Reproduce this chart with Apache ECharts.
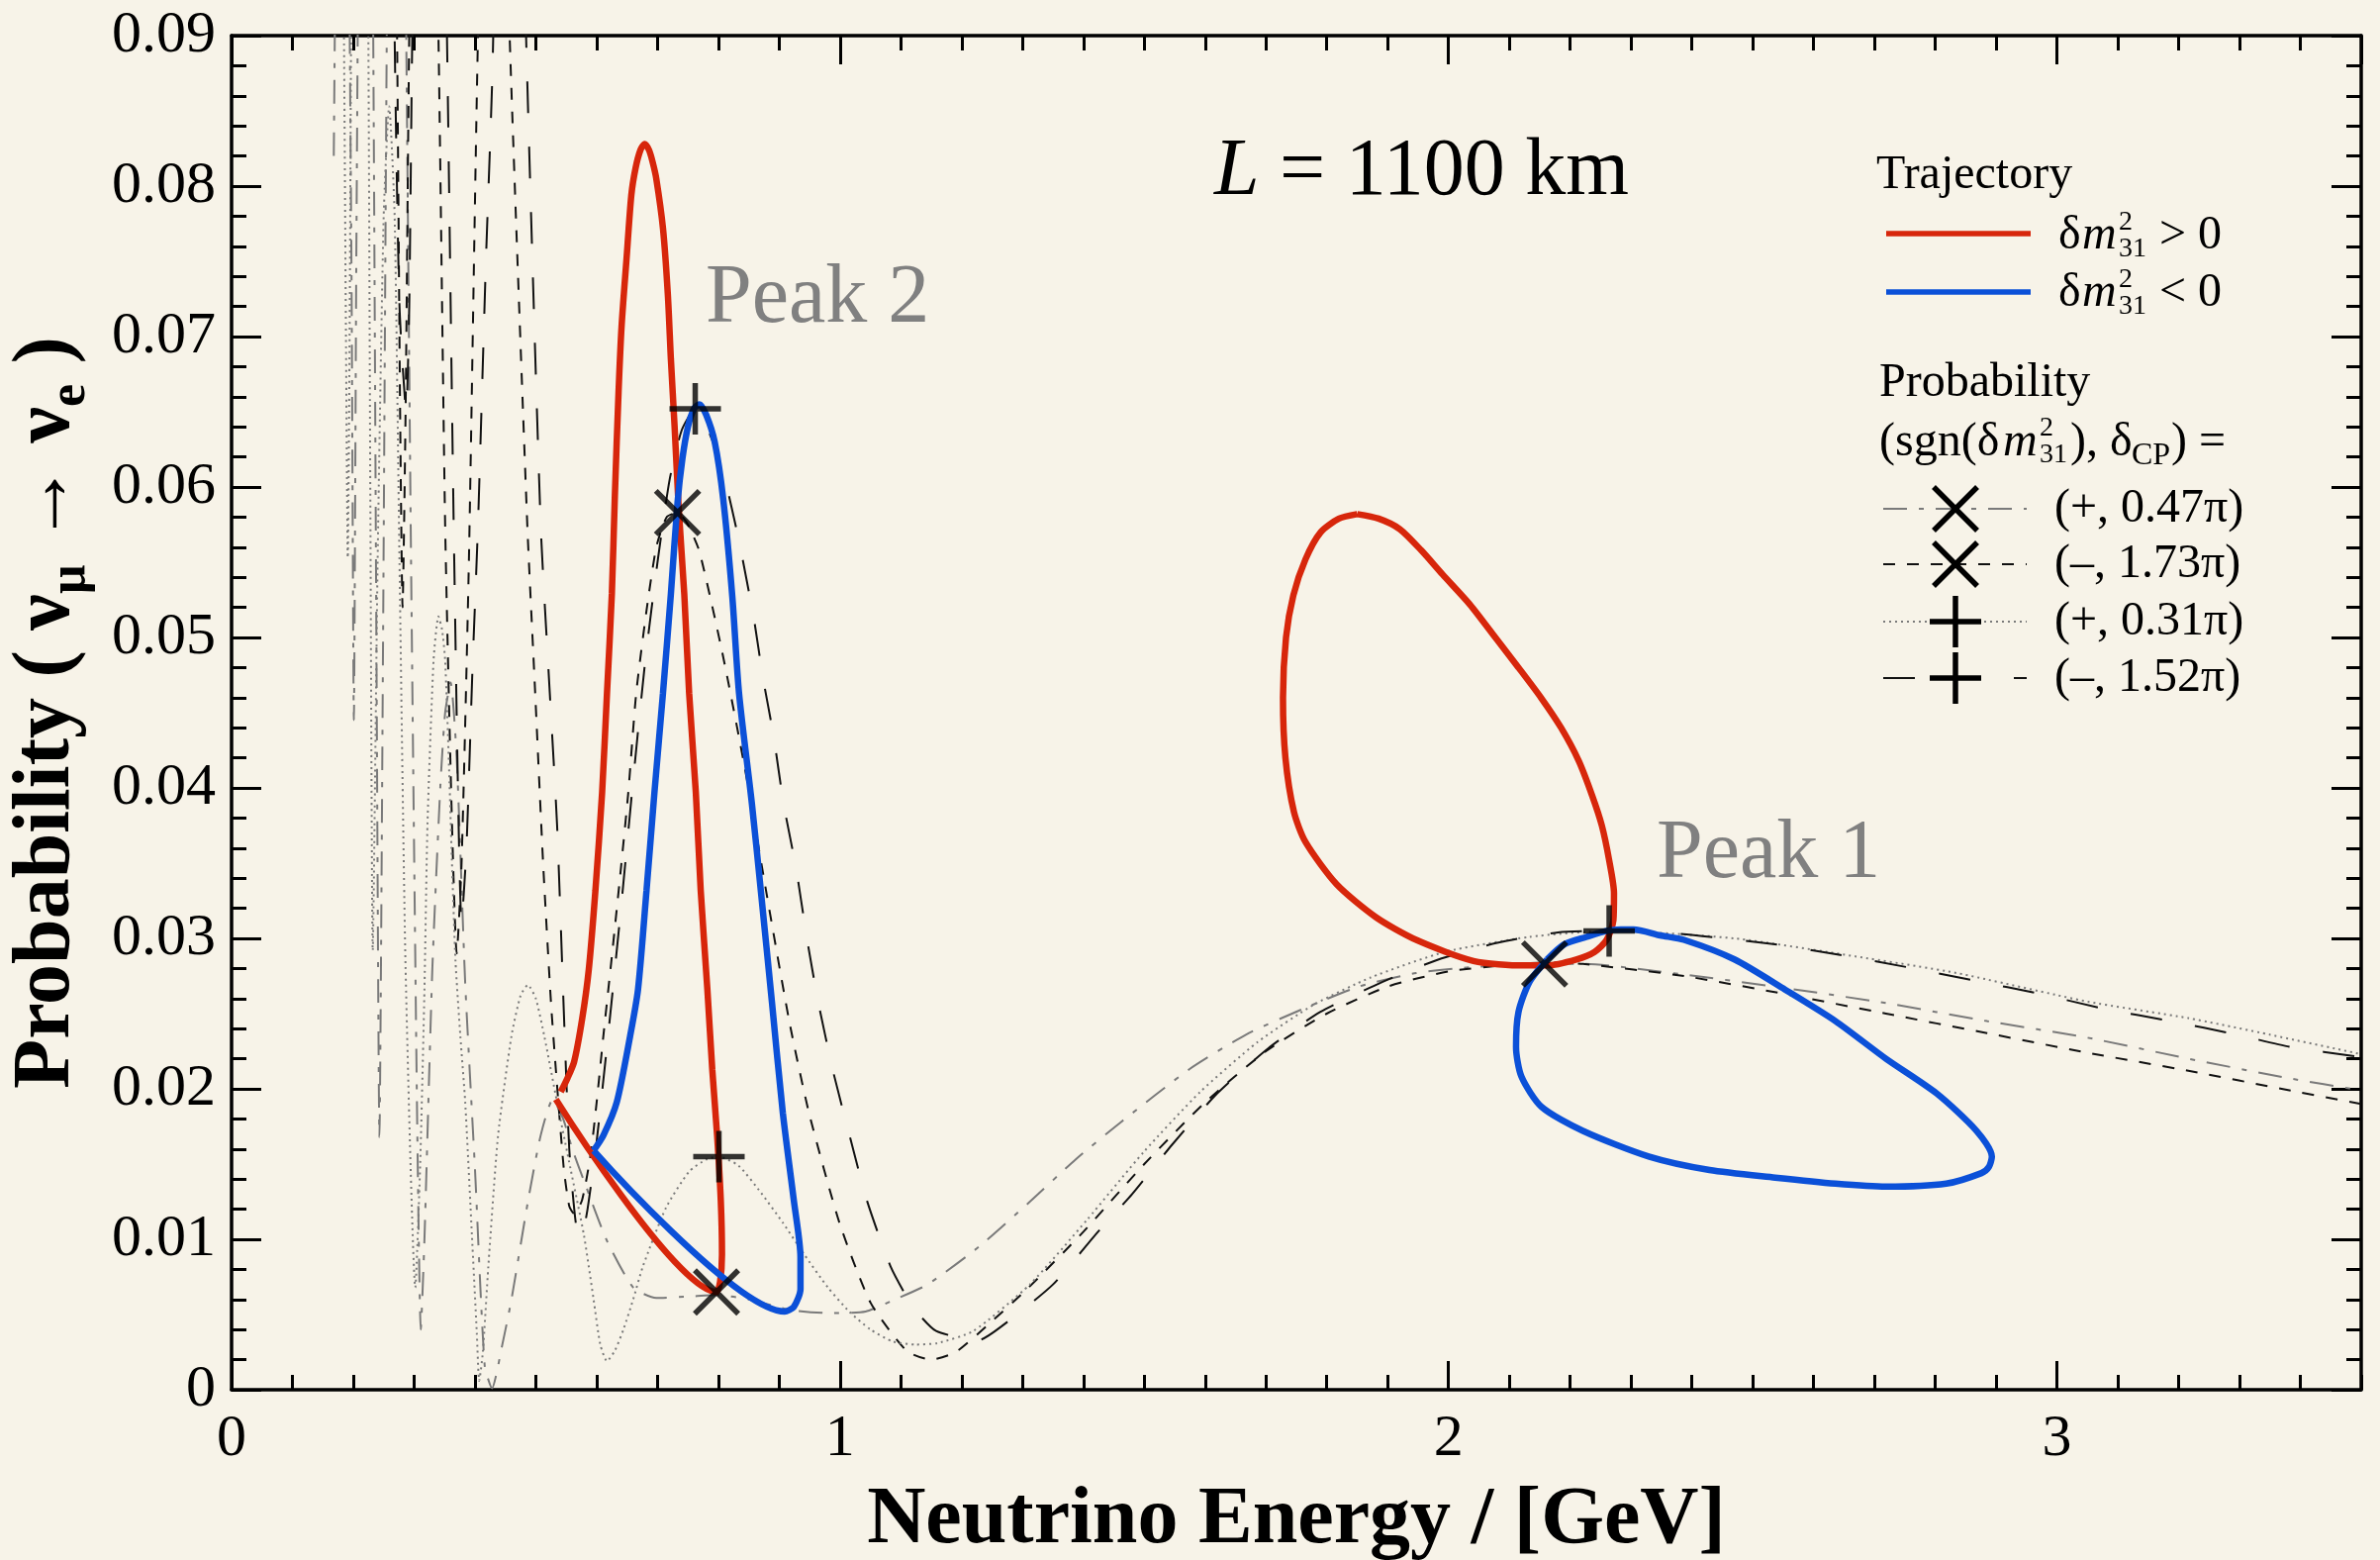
<!DOCTYPE html>
<html>
<head>
<meta charset="utf-8">
<script src="https://cdn.jsdelivr.net/npm/echarts@6/dist/echarts.min.js"></script>
<style>
  html, body { margin: 0; padding: 0; background: #f7f3e8; }
  #chart { width: 2405px; height: 1576px; }
</style>
</head>
<body>
<div id="chart"></div>
<script>
// trajectories of the oscillation peaks, [energy GeV, probability]
const redPeak2 = [
  [0.541, 0.0198], [0.552, 0.0207], [0.563, 0.0218], [0.576, 0.0246], [0.587, 0.0279],
  [0.598, 0.0332], [0.609, 0.0397], [0.617, 0.0463], [0.625, 0.0529], [0.630, 0.0595],
  [0.636, 0.0663], [0.641, 0.0707], [0.649, 0.0751], [0.657, 0.0794], [0.664, 0.0812],
  [0.672, 0.0824], [0.679, 0.0828], [0.686, 0.0824], [0.692, 0.0816], [0.698, 0.0805],
  [0.709, 0.0772], [0.717, 0.0728], [0.722, 0.0685], [0.728, 0.0641], [0.735, 0.0585],
  [0.744, 0.0529], [0.752, 0.0463], [0.763, 0.0397], [0.771, 0.0332], [0.782, 0.0266],
  [0.790, 0.0213], [0.798, 0.0169], [0.804, 0.0126], [0.806, 0.0090], [0.803, 0.0072],
  [0.797, 0.0065], [0.533, 0.0193]
];
const bluePeak2 = [
  [0.595, 0.0159], [0.611, 0.0169], [0.633, 0.0191], [0.655, 0.0235], [0.668, 0.0266],
  [0.682, 0.0332], [0.695, 0.0397], [0.709, 0.0463], [0.722, 0.0529], [0.733, 0.0590],
  [0.741, 0.0619], [0.750, 0.0640], [0.760, 0.0652], [0.769, 0.0655], [0.780, 0.0648],
  [0.794, 0.0630], [0.808, 0.0592], [0.823, 0.0527], [0.834, 0.0463], [0.855, 0.0390],
  [0.870, 0.0331], [0.888, 0.0258], [0.906, 0.0184], [0.924, 0.0126], [0.935, 0.0088],
  [0.935, 0.0067], [0.924, 0.0055], [0.909, 0.0052], [0.595, 0.0159]
];
const redPeak1 = [
  [1.850, 0.0582], [1.885, 0.0579], [1.920, 0.0572], [1.955, 0.0558], [1.990, 0.0542],
  [2.035, 0.0522], [2.077, 0.0500], [2.115, 0.0480], [2.152, 0.0460], [2.185, 0.0440],
  [2.214, 0.0418], [2.236, 0.0395], [2.252, 0.0375], [2.264, 0.0352], [2.272, 0.0330],
  [2.271, 0.0312], [2.260, 0.0299], [2.240, 0.0291], [2.210, 0.0286], [2.162, 0.0282],
  [2.124, 0.0282], [2.041, 0.0285], [1.947, 0.0299], [1.881, 0.0314], [1.816, 0.0336],
  [1.765, 0.0364], [1.746, 0.0384], [1.732, 0.0420], [1.728, 0.0460], [1.733, 0.0500],
  [1.745, 0.0528], [1.765, 0.0552], [1.790, 0.0570], [1.820, 0.0579], [1.850, 0.0582]
];
const bluePeak1 = [
  [2.162, 0.0286], [2.190, 0.0296], [2.227, 0.0301], [2.260, 0.0305], [2.283, 0.0306],
  [2.304, 0.0306], [2.348, 0.0302], [2.387, 0.0299], [2.470, 0.0286], [2.553, 0.0266],
  [2.636, 0.0245], [2.719, 0.0220], [2.802, 0.0197], [2.868, 0.0172], [2.893, 0.0155],
  [2.888, 0.0148], [2.876, 0.0144], [2.818, 0.0137], [2.719, 0.0135], [2.636, 0.0137],
  [2.537, 0.0141], [2.429, 0.0146], [2.329, 0.0155], [2.221, 0.0172], [2.153, 0.0188],
  [2.120, 0.0208], [2.111, 0.0228], [2.115, 0.0251], [2.133, 0.0271], [2.162, 0.0286]
];

// probability curves
// (+, 0.47π)
const probA = [
  [0.168, 0.082], [0.174, 0.110], [0.182, 0.135], [0.190, 0.110], [0.197, 0.075],
  [0.201, 0.0445], [0.205, 0.075], [0.212, 0.115], [0.222, 0.135], [0.232, 0.095],
  [0.238, 0.050], [0.243, 0.0168], [0.249, 0.050], [0.256, 0.095], [0.268, 0.140],
  [0.282, 0.110], [0.295, 0.055], [0.305, 0.018], [0.311, 0.0040], [0.317, 0.010],
  [0.330, 0.028], [0.343, 0.040], [0.351, 0.0450], [0.360, 0.0470], [0.370, 0.0420],
  [0.384, 0.0270], [0.400, 0.0147], [0.416, 0.0016], [0.428, 0.0001], [0.445, 0.0030],
  [0.460, 0.0060], [0.487, 0.0125], [0.508, 0.0169], [0.528, 0.0193], [0.545, 0.0180],
  [0.560, 0.0160], [0.579, 0.0139], [0.617, 0.0099], [0.660, 0.0068], [0.698, 0.0061],
  [0.752, 0.0062], [0.800, 0.0063], [0.850, 0.0060], [0.920, 0.0053], [0.980, 0.0051],
  [1.042, 0.0052], [1.090, 0.0060], [1.144, 0.0070], [1.228, 0.0095], [1.312, 0.0125],
  [1.387, 0.0153], [1.462, 0.0178], [1.574, 0.0213], [1.667, 0.0236], [1.760, 0.0253],
  [1.853, 0.0268], [1.947, 0.0277], [2.041, 0.0281], [2.158, 0.0283], [2.221, 0.0283],
  [2.387, 0.0276], [2.553, 0.0267], [2.719, 0.0257], [2.885, 0.0245], [3.050, 0.0234],
  [3.216, 0.0220], [3.382, 0.0207], [3.500, 0.0199]
];
// (–, 1.73π)
const probB = [
  [0.262, 0.130], [0.272, 0.090], [0.277, 0.065], [0.281, 0.0520], [0.286, 0.065],
  [0.292, 0.090], [0.310, 0.140], [0.330, 0.110], [0.340, 0.090], [0.351, 0.0575],
  [0.362, 0.038], [0.370, 0.0290], [0.378, 0.035], [0.390, 0.055], [0.405, 0.090],
  [0.430, 0.130], [0.445, 0.110], [0.457, 0.090], [0.486, 0.0575], [0.499, 0.0463],
  [0.512, 0.0350], [0.525, 0.0257], [0.535, 0.0202], [0.546, 0.0147], [0.555, 0.0122],
  [0.563, 0.0117], [0.576, 0.0126], [0.590, 0.0156], [0.600, 0.0191], [0.611, 0.0235],
  [0.625, 0.0288], [0.639, 0.0343], [0.652, 0.0397], [0.665, 0.0463], [0.682, 0.0518],
  [0.698, 0.0560], [0.715, 0.0580], [0.733, 0.0583], [0.750, 0.0575], [0.769, 0.0557],
  [0.807, 0.0489], [0.845, 0.0410], [0.880, 0.0328], [0.917, 0.0244], [0.949, 0.0184],
  [0.999, 0.0111], [1.050, 0.0058], [1.109, 0.0026], [1.149, 0.0020], [1.190, 0.0025],
  [1.240, 0.0042], [1.310, 0.0068], [1.400, 0.0105], [1.500, 0.0150], [1.600, 0.0191],
  [1.700, 0.0225], [1.800, 0.0250], [1.900, 0.0268], [2.000, 0.0278], [2.087, 0.0282],
  [2.160, 0.0284], [2.221, 0.0283], [2.387, 0.0275], [2.553, 0.0263], [2.719, 0.0250],
  [2.885, 0.0237], [3.050, 0.0224], [3.216, 0.0212], [3.382, 0.0199], [3.500, 0.0190]
];
// (+, 0.31π)
const probC = [
  [0.168, 0.120], [0.175, 0.130], [0.183, 0.100], [0.188, 0.070], [0.191, 0.0553],
  [0.194, 0.070], [0.198, 0.100], [0.211, 0.140], [0.224, 0.095], [0.228, 0.060],
  [0.232, 0.0292], [0.240, 0.055], [0.250, 0.078], [0.259, 0.0853], [0.268, 0.078],
  [0.276, 0.055], [0.286, 0.028], [0.302, 0.0068], [0.310, 0.015], [0.317, 0.0266],
  [0.322, 0.0376], [0.332, 0.0485], [0.340, 0.0514], [0.346, 0.0505], [0.351, 0.0485],
  [0.357, 0.0419], [0.362, 0.0353], [0.368, 0.0285], [0.376, 0.0235], [0.384, 0.0191],
  [0.395, 0.0103], [0.403, 0.0038], [0.407, 0.0006], [0.413, 0.0025], [0.422, 0.0082],
  [0.438, 0.0169], [0.460, 0.0235], [0.475, 0.0262], [0.487, 0.0269], [0.500, 0.0260],
  [0.514, 0.0235], [0.535, 0.0191], [0.557, 0.0147], [0.579, 0.0103], [0.595, 0.0060],
  [0.606, 0.0030], [0.617, 0.0019], [0.630, 0.0026], [0.644, 0.0040], [0.660, 0.0060],
  [0.676, 0.0082], [0.714, 0.0121], [0.752, 0.0145], [0.780, 0.0153], [0.800, 0.0155],
  [0.833, 0.0149], [0.870, 0.0131], [0.906, 0.0111], [0.941, 0.0090], [0.980, 0.0068],
  [1.015, 0.0052], [1.050, 0.0040], [1.087, 0.0032], [1.124, 0.0030], [1.160, 0.0031],
  [1.219, 0.0039], [1.312, 0.0070], [1.406, 0.0113], [1.499, 0.0158], [1.592, 0.0198],
  [1.686, 0.0231], [1.779, 0.0256], [1.872, 0.0274], [1.994, 0.0291], [2.133, 0.0301],
  [2.264, 0.0305], [2.470, 0.0300], [2.669, 0.0288], [2.835, 0.0277], [3.050, 0.0258],
  [3.216, 0.0247], [3.350, 0.0236], [3.500, 0.0223]
];
// (–, 1.52π)
const probD = [
  [0.262, 0.120], [0.268, 0.090], [0.276, 0.072], [0.287, 0.065], [0.292, 0.072],
  [0.297, 0.090], [0.320, 0.150], [0.345, 0.110], [0.354, 0.090], [0.366, 0.055],
  [0.378, 0.031], [0.386, 0.036], [0.396, 0.048], [0.405, 0.0575], [0.418, 0.075],
  [0.429, 0.088], [0.455, 0.140], [0.484, 0.090], [0.508, 0.0575], [0.523, 0.0463],
  [0.535, 0.0375], [0.546, 0.0252], [0.555, 0.0160], [0.566, 0.0110], [0.575, 0.0102],
  [0.585, 0.0120], [0.600, 0.0165], [0.620, 0.0240], [0.640, 0.0320], [0.660, 0.0405],
  [0.680, 0.0485], [0.700, 0.0550], [0.720, 0.0605], [0.740, 0.0638], [0.762, 0.0652],
  [0.785, 0.0636], [0.809, 0.0608], [0.834, 0.0564], [0.859, 0.0511], [0.873, 0.0474],
  [0.891, 0.0434], [0.907, 0.0390], [0.928, 0.0346], [0.946, 0.0299], [0.964, 0.0258],
  [0.989, 0.0211], [1.015, 0.0170], [1.044, 0.0126], [1.083, 0.0082], [1.120, 0.0055],
  [1.158, 0.0039], [1.228, 0.0033], [1.265, 0.0042], [1.350, 0.0070], [1.424, 0.0105],
  [1.480, 0.0130], [1.546, 0.0163], [1.620, 0.0197], [1.704, 0.0227], [1.789, 0.0251],
  [1.891, 0.0271], [1.984, 0.0286], [2.080, 0.0297], [2.180, 0.0304], [2.264, 0.0305],
  [2.379, 0.0303], [2.537, 0.0296], [2.644, 0.0289], [2.752, 0.0281], [2.864, 0.0272],
  [2.973, 0.0263], [3.080, 0.0253], [3.187, 0.0245], [3.296, 0.0236], [3.382, 0.0228],
  [3.500, 0.0221]
];

// δCP markers on the trajectories
const crossPts = [[0.733, 0.0583], [0.797, 0.0065], [2.158, 0.0283]];
const plusPts = [[0.762, 0.0652], [0.801, 0.0155], [2.264, 0.0305]];

const probLabels = ['(+, 0.47π)', '(–, 1.73π)', '(+, 0.31π)', '(–, 1.52π)'];

const serif = '"Liberation Serif", "Times New Roman", serif';
const red = '#d7260b';
const blue = '#0b50d8';
const gray = '#7a7a7a';
const dashA = [24, 12, 5, 12];
const dashB = [12, 12];
const dashC = [2, 4];
const dashD = [32, 34];
const xPath = 'path://M0,0L44,44M44,0L0,44';
const plusPath = 'path://M26,0L26,52M0,26L52,26';

const chart = echarts.init(document.getElementById('chart'));

function probSeries(name, data, color, dash) {
  return {
    name, type: 'line', data, symbol: 'none', smooth: 0.2, clip: true, silent: true, z: 2,
    lineStyle: { color, width: 2, type: dash }
  };
}
function trajSeries(data, color) {
  return {
    type: 'line', data, symbol: 'none', smooth: 0.25, clip: true, silent: true, z: 3,
    lineStyle: { color, width: 6.5 }
  };
}
function markSeries(data, path, size) {
  return {
    type: 'scatter', data, symbol: path, symbolSize: size, silent: true, z: 5,
    itemStyle: { color: 'rgba(0,0,0,0)', borderColor: '#000', borderWidth: 5.5 }
  };
}

const tickLine = { color: '#000', width: 3 };
function xAx(pos, interval, len, withLine, withLabel) {
  return {
    type: 'value', position: pos, min: 0, max: 3.5, interval,
    axisLine: { show: withLine, onZero: false, lineStyle: { color: '#000', width: 3.5 } },
    axisTick: { show: true, inside: true, length: len, lineStyle: tickLine },
    axisLabel: {
      show: withLabel, color: '#000', fontFamily: serif, fontSize: 60, margin: 20,
      showMaxLabel: false
    },
    splitLine: { show: false }
  };
}
function yAx(pos, withLabel) {
  return {
    type: 'value', position: pos, min: 0, max: 0.09, interval: 0.01,
    axisLine: { show: true, onZero: false, lineStyle: { color: '#000', width: 3.5 } },
    axisTick: { show: true, inside: true, length: 30, lineStyle: tickLine },
    minorTick: { show: true, splitNumber: 5, length: 15, lineStyle: tickLine },
    axisLabel: {
      show: withLabel, color: '#000', fontFamily: serif, fontSize: 60, margin: 16,
      formatter: v => (v === 0 ? '0' : v.toFixed(2))
    },
    splitLine: { show: false },
    minorSplitLine: { show: false }
  };
}

const xMain = xAx('bottom', 1, 29, true, true);
xMain.name = 'Neutrino Energy / [GeV]';
xMain.nameLocation = 'middle';
xMain.nameGap = 92;
xMain.nameMoveOverlap = false;
xMain.nameTextStyle = { color: '#000', fontFamily: serif, fontSize: 82, fontWeight: 'bold' };

const yMain = yAx('left', true);
yMain.name = '{b|Probability ( ν}{s|μ}{b| → ν}{s|e}{b| )}';
yMain.nameLocation = 'middle';
yMain.nameGap = 136;
yMain.nameMoveOverlap = false;
yMain.nameTextStyle = {
  color: '#000',
  rich: {
    b: { fontFamily: serif, fontSize: 82, fontWeight: 'bold', lineHeight: 100, color: '#000' },
    s: { fontFamily: serif, fontSize: 52, fontWeight: 'bold', lineHeight: 52, verticalAlign: 'bottom', color: '#000' }
  }
};

// text and legend pieces
function txt(x, y, text, size, opts) {
  opts = opts || {};
  return {
    type: 'text', x, y, silent: true, z: 10,
    style: {
      text, fill: opts.fill || '#000', fontFamily: serif, fontSize: size,
      fontStyle: opts.italic ? 'italic' : 'normal',
      align: 'left', verticalAlign: 'middle', textAlign: 'left', textVerticalAlign: 'middle',
      rich: opts.rich
    }
  };
}
function seg(x1, y1, x2, y2, color, width, dash) {
  return {
    type: 'line', silent: true, z: 10,
    shape: { x1, y1, x2, y2 },
    style: { stroke: color, lineWidth: width, lineDash: dash || null }
  };
}
function crossMark(cx, cy) {
  return [seg(cx - 22, cy - 22, cx + 22, cy + 22, '#000', 5.5), seg(cx + 22, cy - 22, cx - 22, cy + 22, '#000', 5.5)];
}
function plusMark(cx, cy) {
  return [seg(cx - 26, cy, cx + 26, cy, '#000', 5.5), seg(cx, cy - 26, cx, cy + 26, '#000', 5.5)];
}
function dmRow(y, sign) {
  return [
    txt(2080, y, 'δ', 48),
    txt(2104, y, 'm', 48, { italic: true }),
    txt(2141, y - 13, '2', 28),
    txt(2141, y + 14, '31', 28),
    txt(2182, y, sign + ' 0', 48)
  ];
}

const graphics = [
  txt(1227, 174, '{i|L}{n| = 1100 km}', 82, {
    rich: {
      i: { fontFamily: serif, fontSize: 82, fontStyle: 'italic' },
      n: { fontFamily: serif, fontSize: 82 }
    }
  }),
  txt(713, 303, 'Peak 2', 84, { fill: '#808080' }),
  txt(1674, 864, 'Peak 1', 84, { fill: '#808080' }),
  txt(1896, 177, 'Trajectory', 48),
  seg(1906, 236, 2052, 236, red, 5.5),
  ...dmRow(238, '>'),
  seg(1906, 295, 2052, 295, blue, 5.5),
  ...dmRow(296, '<'),
  txt(1899, 387, 'Probability', 48),
  txt(1899, 447, '(sgn(δ', 48),
  txt(2024, 447, 'm', 48, { italic: true }),
  txt(2061, 433, '2', 28),
  txt(2061, 460, '31', 28),
  txt(2092, 447, '), δ', 48),
  txt(2154, 461, 'CP', 32),
  txt(2194, 447, ') =', 48)
];
const rowY = [514, 570, 628, 685];
const rowStyle = [[gray, dashA, 'x'], ['#111', dashB, 'x'], [gray, dashC, '+'], ['#111', dashD, '+']];
rowY.forEach((y, i) => {
  const [c, d, m] = rowStyle[i];
  graphics.push(seg(1903, y, 2048, y, c, 2, d));
  graphics.push(...(m === 'x' ? crossMark(1976, y) : plusMark(1976, y)));
  graphics.push(txt(2076, y, probLabels[i], 48));
});

chart.setOption({
  backgroundColor: '#f7f3e8',
  animation: false,
  grid: { left: 234, right: 19, top: 36, bottom: 172, outerBoundsMode: 'none', containLabel: false },
  xAxis: [
    xMain,
    xAx('bottom', 0.1, 15, false, false),
    xAx('top', 1, 29, true, false),
    xAx('top', 0.1, 15, false, false)
  ],
  yAxis: [yMain, yAx('right', false)],
  series: [
    probSeries(probLabels[0], probA, gray, dashA),
    probSeries(probLabels[1], probB, '#111', dashB),
    probSeries(probLabels[2], probC, gray, dashC),
    probSeries(probLabels[3], probD, '#111', dashD),
    trajSeries(redPeak2, red),
    trajSeries(redPeak1, red),
    trajSeries(bluePeak2, blue),
    trajSeries(bluePeak1, blue),
    markSeries(crossPts, xPath, 44),
    markSeries(plusPts, plusPath, 52)
  ],
  graphic: graphics
});
</script>
</body>
</html>
